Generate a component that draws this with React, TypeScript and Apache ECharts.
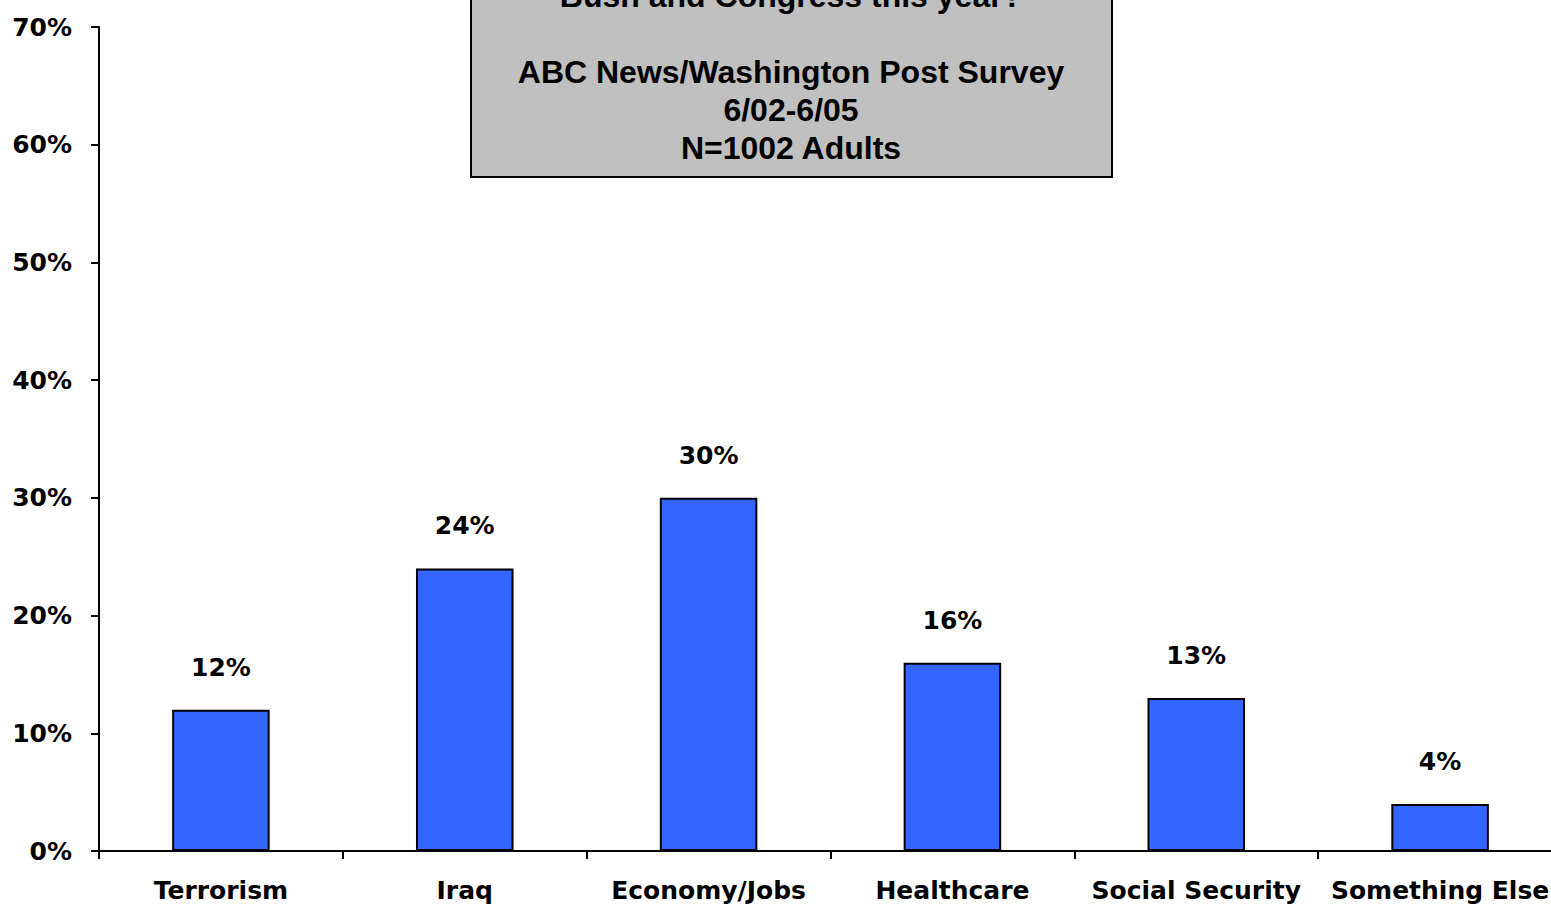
import React, { useEffect, useRef } from "react";
import * as echarts from "echarts";

const categories = ["Terrorism", "Iraq", "Economy/Jobs", "Healthcare", "Social Security", "Something Else"];
const values = [12, 24, 30, 16, 13, 4];
const titleLines = ["Bush and Congress this year?", "", "ABC News/Washington Post Survey", "6/02-6/05", "N=1002 Adults"];

const tickFont = "'DejaVu Sans', Verdana, sans-serif";
const boxFont = "'Liberation Sans', Arial, sans-serif";

export default function App() {
  const ref = useRef<HTMLDivElement>(null);
  useEffect(() => {
    if (!ref.current) return;
    const chart = echarts.init(ref.current, undefined, { renderer: "svg" });
    const lineH = 38;
    const firstY = -4;
    const textEls = titleLines.map((t, i) => ({
      type: "text",
      x: 791,
      y: firstY + i * lineH,
      z: 101,
      style: {
        text: t,
        fill: "#000",
        font: `bold 32px ${boxFont}`,
        textAlign: "center",
        textVerticalAlign: "middle",
      },
    }));
    chart.setOption({
      animation: false,
      backgroundColor: "#fff",
      grid: { left: 99, right: 8, top: 27, bottom: 55, containLabel: false },
      xAxis: {
        type: "category",
        data: categories,
        axisLine: { lineStyle: { color: "#000", width: 2 } },
        axisTick: { show: true, length: 8, lineStyle: { color: "#000", width: 2 } },
        axisLabel: {
          color: "#000",
          fontFamily: tickFont,
          fontWeight: "bold",
          fontSize: 25,
          margin: 27,
          interval: 0,
        },
      },
      yAxis: {
        type: "value",
        min: 0,
        max: 70,
        interval: 10,
        splitLine: { show: false },
        axisLine: { show: true, lineStyle: { color: "#000", width: 2 } },
        axisTick: { show: true, length: 8, lineStyle: { color: "#000", width: 2 } },
        axisLabel: {
          color: "#000",
          fontFamily: tickFont,
          fontWeight: "bold",
          fontSize: 25,
          margin: 27,
          formatter: "{value}%",
        },
      },
      series: [
        {
          type: "bar",
          data: values,
          barWidth: "40%",
          itemStyle: { color: "#3366FF", borderColor: "#000", borderWidth: 2 },
          label: {
            show: true,
            position: "top",
            distance: 30,
            color: "#000",
            fontFamily: tickFont,
            fontWeight: "bold",
            fontSize: 25,
            formatter: "{c}%",
          },
        },
      ],
      graphic: [
        {
          type: "rect",
          z: 100,
          shape: { x: 471, y: -60, width: 641, height: 237 },
          style: { fill: "#C0C0C0", stroke: "#000", lineWidth: 2 },
        },
        ...textEls,
      ],
    });
    return () => chart.dispose();
  }, []);
  return (
    <div style={{ position: "fixed", left: 0, top: 0, width: 1551, height: 906, overflow: "hidden" }}>
      <div ref={ref} style={{ position: "absolute", left: 0, top: 0, width: 1570, height: 906 }} />
    </div>
  );
}
